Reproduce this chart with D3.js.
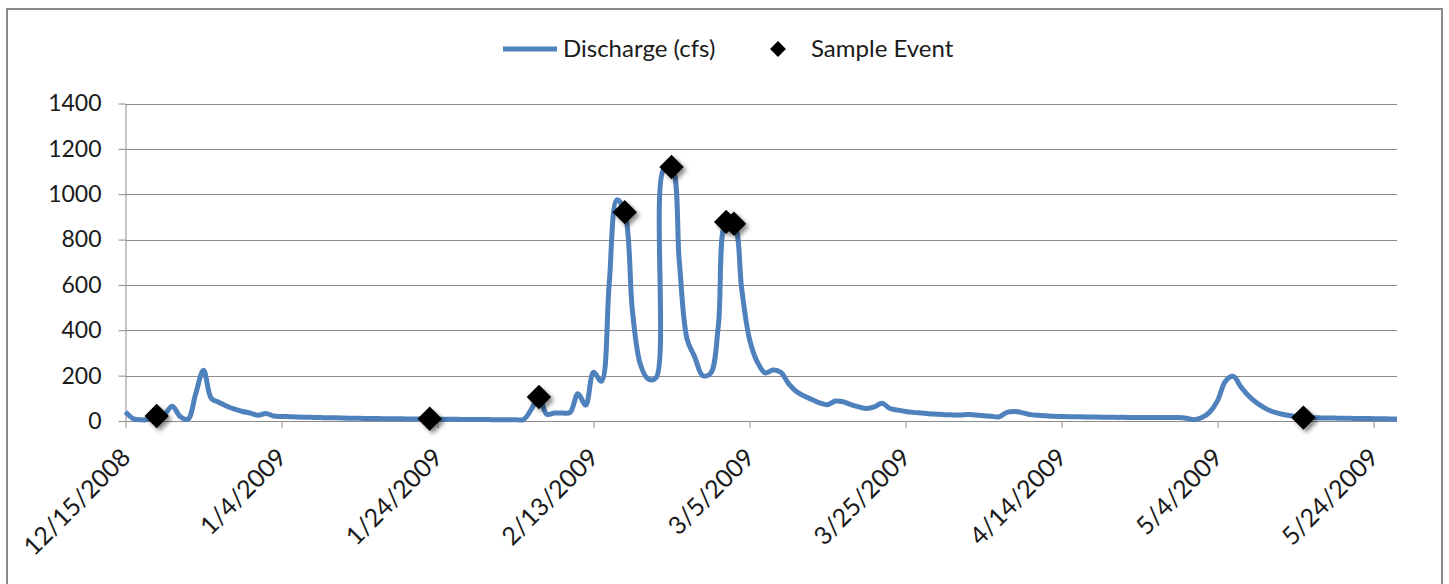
<!DOCTYPE html>
<html>
<head>
<meta charset="utf-8">
<script src="https://cdn.jsdelivr.net/npm/d3@7"></script>
<style>
  html, body { margin: 0; padding: 0; background: #fff; }
  svg { display: block; font-family: Lato, "Liberation Sans", sans-serif; }
</style>
</head>
<body>
<svg id="chart" width="1449" height="584"></svg>
<script>
// Daily discharge (cfs), one value per day starting 12/15/2008
const startDate = "2008-12-15";
const endDate = "2009-05-27";
const discharge = [
  40, 10, 5, 8, 20, 30, 65, 20, 8, 120,
  224, 100, 82, 65, 52, 42, 35, 25, 33, 22,
  20, 19, 18, 17, 16, 15, 14, 14, 13, 12,
  12, 11, 11, 10, 10, 10, 9, 9, 9, 9,
  8, 8, 8, 7, 7, 7, 7, 6, 6, 6,
  6, 6, 50, 106, 30, 35, 35, 38, 120, 70,
  215, 175, 600, 975, 921, 480, 250, 185, 190, 1110,
  1120, 700, 360, 280, 200, 210, 420, 878, 870, 580,
  360, 260, 212, 225, 215, 165, 130, 110, 95, 80,
  72, 88, 85, 72, 62, 55, 62, 78, 55, 48,
  42, 38, 35, 32, 30, 28, 27, 26, 29, 26,
  23, 21, 18, 38, 42, 36, 28, 25, 23, 21,
  20, 19, 19, 18, 18, 17, 17, 16, 16, 15,
  15, 15, 15, 15, 15, 15, 12, 6, 15, 40,
  90, 175, 197, 150, 110, 80, 58, 42, 32, 25,
  20, 16, 15, 14, 13, 13, 12, 12, 11, 11,
  10, 10, 9, 9
];

// Sampling events
const sampleDates = ["2008-12-19", "2009-01-23", "2009-02-06", "2009-02-17",
                     "2009-02-23", "2009-03-02", "2009-03-03", "2009-05-15"];
const sampleValues = [22, 10, 106, 921, 1120, 878, 870, 15];

// Axis ticks
const xTickDates = ["2008-12-15", "2009-01-04", "2009-01-24", "2009-02-13", "2009-03-05",
                    "2009-03-25", "2009-04-14", "2009-05-04", "2009-05-24"];
const yTicks = [0, 200, 400, 600, 800, 1000, 1200, 1400];

const seriesNames = ["Discharge (cfs)", "Sample Event"];

const parse = d3.utcParse("%Y-%m-%d");
const fmt = d3.utcFormat("%-m/%-d/%Y");
const t0 = parse(startDate);

const flow = discharge.map((v, i) => ({ date: d3.utcDay.offset(t0, i), value: v }));
const samples = sampleDates.map((d, i) => ({ date: parse(d), value: sampleValues[i] }));

const svg = d3.select("#chart");
const lineColor = "#4F81BD";
const fontFamily = "Lato, 'Liberation Sans', sans-serif";

// Outer chart frame
svg.append("rect")
  .attr("x", 7).attr("y", 9)
  .attr("width", 1435).attr("height", 600)
  .attr("fill", "#fff")
  .attr("stroke", "#8a8a8a")
  .attr("stroke-width", 2);

const plot = { left: 125.5, right: 1397, top: 103.5, bottom: 421 };

const x = d3.scaleUtc()
  .domain([t0, parse(endDate)])
  .range([plot.left, plot.right]);

const y = d3.scaleLinear()
  .domain([0, 1400])
  .range([plot.bottom, plot.top]);

// Drop shadow for the sample markers
const defs = svg.append("defs");
const f = defs.append("filter").attr("id", "shadow")
  .attr("x", "-50%").attr("y", "-50%").attr("width", "200%").attr("height", "200%");
f.append("feDropShadow")
  .attr("dx", 3).attr("dy", 3).attr("stdDeviation", 2.2)
  .attr("flood-color", "#000").attr("flood-opacity", 0.45);

// Horizontal gridlines
svg.append("g")
  .selectAll("line")
  .data(yTicks.filter(t => t > 0))
  .join("line")
  .attr("x1", plot.left).attr("x2", plot.right)
  .attr("y1", d => Math.round(y(d)) + 0.5).attr("y2", d => Math.round(y(d)) + 0.5)
  .attr("stroke", "#8c8c8c").attr("stroke-width", 1);

// Y axis
const yAxis = svg.append("g")
  .attr("transform", `translate(${plot.left},0)`)
  .call(d3.axisLeft(y).tickValues(yTicks).tickFormat(d3.format("d"))
        .tickSize(7).tickPadding(17).tickSizeOuter(0));
yAxis.select(".domain").attr("stroke", "#8c8c8c");
yAxis.selectAll(".tick line").attr("stroke", "#8c8c8c");
yAxis.selectAll(".tick text")
  .attr("font-family", fontFamily)
  .attr("font-size", 23).attr("fill", "#1a1a1a");

// X axis
const xAxis = svg.append("g")
  .attr("transform", `translate(0,${plot.bottom})`)
  .call(d3.axisBottom(x).tickValues(xTickDates.map(parse)).tickFormat(fmt)
        .tickSize(7).tickSizeOuter(0));
xAxis.select(".domain").attr("stroke", "#8c8c8c").attr("d", `M${plot.left},0.5H${plot.right}`);
xAxis.selectAll(".tick line").attr("stroke", "#8c8c8c");
xAxis.selectAll(".tick text")
  .attr("font-family", fontFamily)
  .attr("font-size", 25).attr("fill", "#1a1a1a")
  .attr("text-anchor", "end")
  .attr("dy", null)
  .attr("y", 0)
  .attr("transform", "translate(6,38) rotate(-45)");

// Discharge line
const line = d3.line()
  .x(d => x(d.date))
  .y(d => y(d.value))
  .curve(d3.curveCatmullRom.alpha(0.5));

svg.append("path")
  .datum(flow)
  .attr("fill", "none")
  .attr("stroke", lineColor)
  .attr("stroke-width", 5)
  .attr("stroke-linejoin", "round")
  .attr("d", line);

// Sample event markers
const diamond = d3.symbol().type(d3.symbolDiamond2).size(380);
svg.append("g")
  .attr("filter", "url(#shadow)")
  .selectAll("path")
  .data(samples)
  .join("path")
  .attr("transform", d => `translate(${x(d.date)},${y(d.value)})`)
  .attr("d", diamond)
  .attr("fill", "#000");

// Legend
const legend = svg.append("g").attr("font-family", fontFamily)
  .attr("font-size", 24).attr("fill", "#1a1a1a");
legend.append("line")
  .attr("x1", 503).attr("x2", 557).attr("y1", 49).attr("y2", 49)
  .attr("stroke", lineColor).attr("stroke-width", 5);
legend.append("text").attr("x", 563).attr("y", 49).attr("dy", "0.35em").text(seriesNames[0]);
legend.append("path")
  .attr("transform", "translate(778,49)")
  .attr("d", d3.symbol().type(d3.symbolDiamond2).size(160)())
  .attr("fill", "#000");
legend.append("text").attr("x", 811).attr("y", 49).attr("dy", "0.35em").text(seriesNames[1]);
</script>
</body>
</html>
